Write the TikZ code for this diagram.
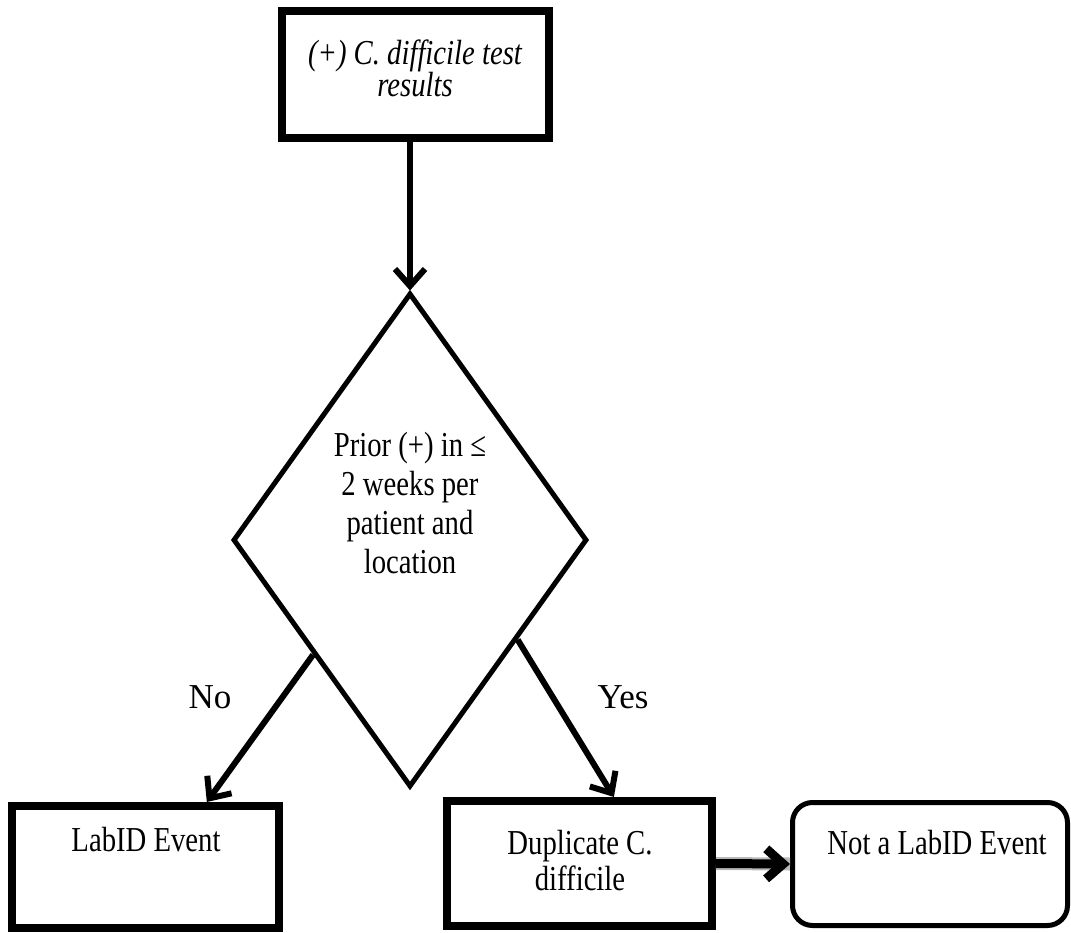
\documentclass[tikz,border=0pt]{standalone}
\usepackage{fontspec}
\setmainfont{Liberation Serif}
\newfontfamily\cond{Liberation Serif}[FakeStretch=0.82]
\usetikzlibrary{shapes.geometric,arrows.meta,calc}
\tikzset{
  boxnode/.style={draw, rectangle, line width=8pt, inner sep=0pt},
  txt/.style={font=\cond\fontsize{35}{37}\selectfont, align=center, inner sep=0pt},
  yn/.style={font=\fontsize{35}{38}\selectfont, inner sep=0pt},
  arr/.style={line width=6pt, line cap=butt, -{Straight Barb[length=17pt, width=30pt]}}
}
\begin{document}
\begin{tikzpicture}[x=1pt, y=-1pt]
\useasboundingbox (0,0) rectangle (1071,933);
% nodes
\node[boxnode, minimum width=267pt, minimum height=127pt] (top) at (415.5,74.5) {};
\node[txt, font=\cond\itshape\fontsize{35}{32}\selectfont] (toptext) at (415,68) {(+) C. difficile test\\results};
\node[diamond, draw, line width=5pt, minimum width=354pt, minimum height=494pt, inner sep=0pt] (d) at (410,540) {};
\node[txt, font=\cond\fontsize{35}{39}\selectfont] (q) at (410,503) {Prior (+) in ≤\\2 weeks per\\patient and\\location};
\node[boxnode, minimum width=267pt, minimum height=122pt] (labid) at (145.5,867) {};
\node[txt] (labidtext) at (146,840) {LabID Event};
\node[boxnode, minimum width=265pt, minimum height=125pt] (dup) at (579.5,863.5) {};
\node[txt, font=\cond\fontsize{35}{36}\selectfont] (duptext) at (580,861) {Duplicate C.\\difficile};
\node[draw, rectangle, rounded corners=20pt, line width=5pt, minimum width=275pt, minimum height=123pt, inner sep=0pt] (not) at (930,864) {};
\node[txt] (nottext) at (937,843) {Not a LabID Event};
\node[yn] (no) at (210,697) {No};
\node[yn] (yes) at (623,697) {Yes};
% connectors
\coordinate (noStart) at ($(d.west)!0.46!(d.south)$);
\coordinate (yesStart) at ($(d.east)!0.40!(d.south)$);
\coordinate (noEnd) at ($(labid.north west)!0.723!(labid.north east)$);
\coordinate (yesEnd) at ($(dup.north west)!0.626!(dup.north east)$);
\draw[arr] (d.north |- top.south) -- (d.north);
\draw[arr] (noStart) -- (noEnd);
\draw[arr] (yesStart) -- (yesEnd);
\draw[arr, line width=9pt, preaction={draw=gray!55, line width=13pt, -}] (dup.east) -- (not.west);
\end{tikzpicture}
\end{document}
